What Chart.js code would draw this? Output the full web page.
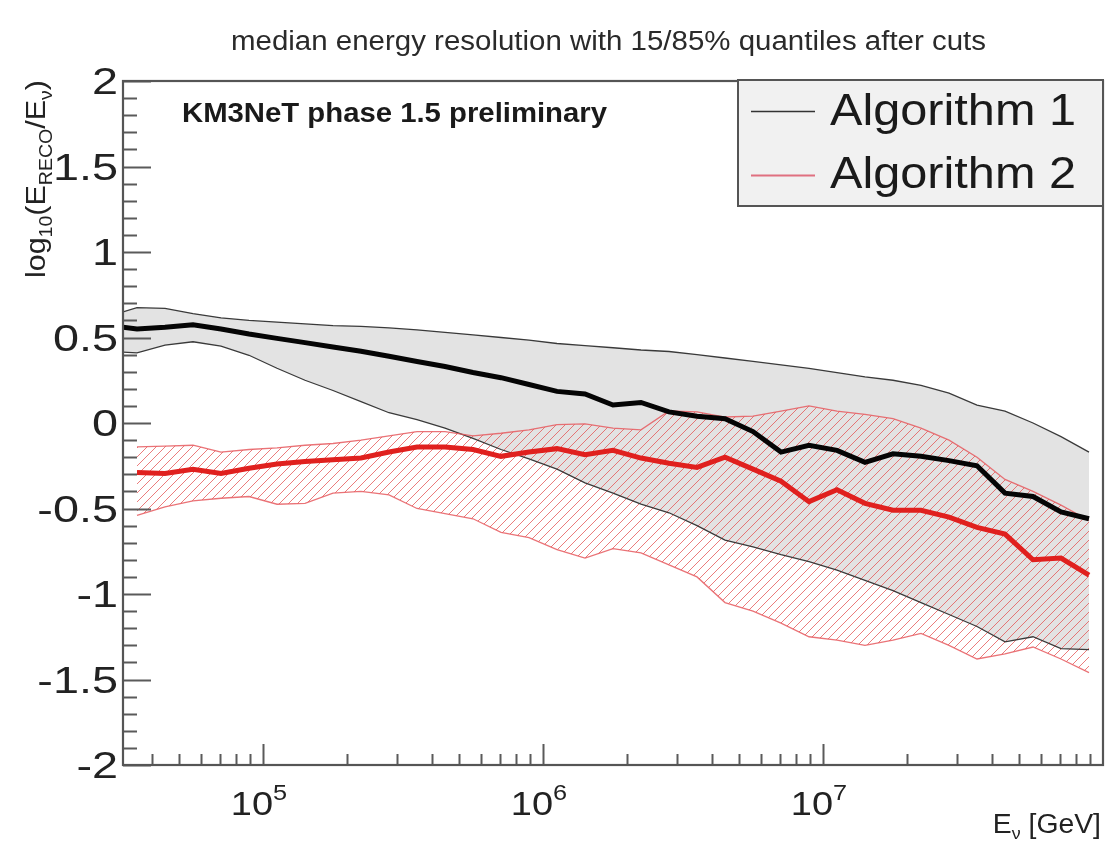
<!DOCTYPE html>
<html><head><meta charset="utf-8">
<script src="https://cdn.jsdelivr.net/npm/chart.js@4.4.1/dist/chart.umd.min.js"></script>
<style>html,body{margin:0;padding:0;background:#fff;} #wrap{width:1111px;height:842px;}</style>
</head><body><div id="wrap"><canvas id="c" width="1111" height="842"></canvas></div>
<script>
// ---- data ----
const energy = [35481, 44668, 56234, 70795, 89125, 112202, 141254, 177828, 223872, 281838,
  354813, 446684, 562341, 707946, 891251, 1122018, 1412538, 1778279, 2238721, 2818383,
  3548134, 4466836, 5623413, 7079458, 8912509, 11220185, 14125375, 17782794, 22387211, 28183829,
  35481339, 44668359, 56234133, 70794578, 89125094];
const energyA1 = [31623, 35481, 44668, 56234, 70795, 89125, 112202, 141254, 177828, 223872, 281838,
  354813, 446684, 562341, 707946, 891251, 1122018, 1412538, 1778279, 2238721, 2818383,
  3548134, 4466836, 5623413, 7079458, 8912509, 11220185, 14125375, 17782794, 22387211, 28183829,
  35481339, 44668359, 56234133, 70794578, 89125094];
const a1Median = [0.56, 0.55, 0.56, 0.575, 0.55, 0.52, 0.495, 0.47, 0.445, 0.42, 0.39,
  0.36, 0.33, 0.295, 0.265, 0.225, 0.185, 0.17, 0.105, 0.12, 0.065,
  0.04, 0.025, -0.05, -0.17, -0.13, -0.16, -0.23, -0.18, -0.195, -0.22,
  -0.25, -0.41, -0.43, -0.52, -0.56];
const a1Upper = [0.65, 0.675, 0.67, 0.64, 0.615, 0.60, 0.59, 0.58, 0.57, 0.565, 0.556,
  0.545, 0.53, 0.515, 0.50, 0.485, 0.465, 0.452, 0.44, 0.427, 0.418,
  0.40, 0.38, 0.36, 0.34, 0.32, 0.295, 0.27, 0.25, 0.22, 0.175,
  0.105, 0.07, 0.0, -0.08, -0.17];
const a1Lower = [0.415, 0.41, 0.455, 0.475, 0.45, 0.396, 0.32, 0.25, 0.19, 0.125, 0.06,
  0.02, -0.03, -0.09, -0.155, -0.21, -0.27, -0.35, -0.41, -0.475, -0.525,
  -0.6, -0.685, -0.725, -0.77, -0.81, -0.86, -0.92, -0.98, -1.05, -1.12,
  -1.19, -1.28, -1.25, -1.32, -1.325];
const a2Median = [-0.29, -0.295, -0.27, -0.295, -0.265, -0.24, -0.225, -0.215, -0.205, -0.17,
  -0.14, -0.14, -0.155, -0.195, -0.17, -0.15, -0.185, -0.16, -0.205, -0.235,
  -0.26, -0.2, -0.27, -0.34, -0.46, -0.39, -0.47, -0.51, -0.51, -0.55,
  -0.61, -0.65, -0.8, -0.79, -0.89];
const a2Upper = [-0.14, -0.135, -0.13, -0.17, -0.155, -0.145, -0.13, -0.12, -0.1, -0.075,
  -0.05, -0.05, -0.075, -0.06, -0.04, -0.01, -0.005, -0.03, -0.04, 0.07,
  0.065, 0.035, 0.04, 0.07, 0.1, 0.07, 0.05, 0.025, -0.03, -0.1,
  -0.2, -0.33, -0.4, -0.48, -0.57];
const a2Lower = [-0.54, -0.49, -0.455, -0.44, -0.43, -0.475, -0.47, -0.41, -0.40, -0.42,
  -0.5, -0.53, -0.56, -0.64, -0.67, -0.74, -0.79, -0.735, -0.76, -0.83,
  -0.9, -1.05, -1.1, -1.17, -1.25, -1.27, -1.30, -1.27, -1.23, -1.3,
  -1.38, -1.35, -1.31, -1.38, -1.46];
const seriesNames = ['Algorithm 1', 'Algorithm 2'];
const yTickValues = [2, 1.5, 1, 0.5, 0, -0.5, -1, -1.5, -2];
const yTickLabels = ['2', '1.5', '1', '0.5', '0', '-0.5', '-1', '-1.5', '-2'];
const xTickValues = [1e5, 1e6, 1e7];
const xTickBase = '10';
const xTickExponents = ['5', '6', '7'];
const xMinorTicks = [4e4,5e4,6e4,7e4,8e4,9e4,2e5,3e5,4e5,5e5,6e5,7e5,8e5,9e5,2e6,3e6,4e6,5e6,6e6,7e6,8e6,9e6,2e7,3e7,4e7,5e7,6e7,7e7,8e7,9e7];
const titleText = 'median energy resolution with 15/85% quantiles after cuts';
const labelText = 'KM3NeT phase 1.5 preliminary';

// ---- helpers ----
const FONT = '"Liberation Sans", Arial, sans-serif';
function pts(xs, ys) { return xs.map((x, i) => ({ x: x, y: ys[i] })); }
function runsWidth(ctx, runs) {
  let w = 0;
  for (const r of runs) { ctx.font = (r.bold ? 'bold ' : '') + r.size + 'px ' + FONT; w += ctx.measureText(r.t).width; }
  return w;
}
function drawRuns(ctx, runs, x, y, hscale, color) {
  let cx = x;
  ctx.fillStyle = color || '#1a1a1a';
  ctx.textAlign = 'left'; ctx.textBaseline = 'alphabetic';
  for (const r of runs) {
    ctx.font = (r.bold ? 'bold ' : '') + r.size + 'px ' + FONT;
    ctx.save(); ctx.translate(cx, y + (r.dy || 0)); ctx.scale(hscale, 1);
    ctx.fillText(r.t, 0, 0); ctx.restore();
    cx += ctx.measureText(r.t).width * hscale;
  }
}
function drawFit(ctx, runs, x, y, width, color) {
  const w = runsWidth(ctx, runs);
  drawRuns(ctx, runs, x, y, width / w, color);
}

const canvas = document.getElementById('c');
const ctx0 = canvas.getContext('2d');
function makeHatch() {
  const c = document.createElement('canvas'); c.width = 9; c.height = 9;
  const g = c.getContext('2d');
  g.strokeStyle = 'rgba(228,80,80,0.75)'; g.lineWidth = 1;
  g.beginPath(); g.moveTo(-2, 11); g.lineTo(11, -2); g.stroke();
  g.beginPath(); g.moveTo(-2, 2); g.lineTo(2, -2); g.stroke();
  g.beginPath(); g.moveTo(7, 11); g.lineTo(11, 7); g.stroke();
  return ctx0.createPattern(c, 'repeat');
}

const rootPlugin = {
  id: 'rootStyle',
  beforeDraw(chart) {
    const c = chart.ctx; c.save(); c.fillStyle = '#fff'; c.fillRect(0, 0, chart.width, chart.height); c.restore();
  },
  afterDatasetsDraw(chart) {
    const c = chart.ctx, a = chart.chartArea, xs = chart.scales.x, ys = chart.scales.y;
    c.save();
    c.strokeStyle = '#5a5a5a'; c.lineWidth = 2;
    c.beginPath();
    for (let i = 0; i < yTickValues.length; i++) {
      const py = Math.round(ys.getPixelForValue(yTickValues[i])) + 0.5;
      c.moveTo(a.left, py); c.lineTo(a.left + 28, py);
    }
    for (let v = -19; v < 20; v++) {
      if (v % 5 === 0) continue;
      const py = Math.round(ys.getPixelForValue(v / 10)) + 0.5;
      c.moveTo(a.left, py); c.lineTo(a.left + 14, py);
    }
    for (const t of xTickValues) { const px = Math.round(xs.getPixelForValue(t)) + 0.5; c.moveTo(px, a.bottom); c.lineTo(px, a.bottom - 21); }
    for (const t of xMinorTicks) { const px = Math.round(xs.getPixelForValue(t)) + 0.5; c.moveTo(px, a.bottom); c.lineTo(px, a.bottom - 11); }
    c.stroke();
    c.strokeStyle = '#555'; c.lineWidth = 2.2;
    c.strokeRect(a.left, a.top, a.right - a.left, a.bottom - a.top);
    c.restore();
  },
  afterDraw(chart) {
    const c = chart.ctx, xs = chart.scales.x, ys = chart.scales.y;
    c.save();
    drawFit(c, [{ t: titleText, size: 27 }], 231, 50, 755, '#2a2a2a');
    drawFit(c, [{ t: labelText, size: 28, bold: true }], 182, 122, 425, '#1a1a1a');
    for (let i = 0; i < yTickValues.length; i++) {
      const py = ys.getPixelForValue(yTickValues[i]);
      c.font = '36px ' + FONT;
      const hs = 1.3;
      const w = c.measureText(yTickLabels[i]).width * hs;
      drawRuns(c, [{ t: yTickLabels[i], size: 36 }], 118 - w, py + 13, hs, '#222');
    }
    for (let i = 0; i < xTickValues.length; i++) {
      const px = xs.getPixelForValue(xTickValues[i]);
      const runs = [{ t: xTickBase, size: 33 }, { t: xTickExponents[i], size: 22, dy: -15 }];
      const hs = 1.15;
      const w = runsWidth(c, runs) * hs;
      drawRuns(c, runs, px - w / 2 - 4, 815, hs, '#222');
    }
    {
      const runs = [{ t: 'E', size: 27 }, { t: 'ν', size: 17, dy: 6 }, { t: ' [GeV]', size: 27 }];
      const hs = 1.05; const w = runsWidth(c, runs) * hs;
      drawRuns(c, runs, 1101 - w, 833, hs, '#222');
    }
    c.save(); c.translate(45, 278); c.rotate(-Math.PI / 2);
    drawFit(c, [{ t: 'log', size: 28 }, { t: '10', size: 18, dy: 7 }, { t: '(E', size: 28 }, { t: 'RECO', size: 18, dy: 7 },
      { t: '/E', size: 28 }, { t: 'ν', size: 18, dy: 7 }, { t: ')', size: 28 }], 0, 0, 198, '#222');
    c.restore();
    // legend
    c.fillStyle = '#f1f1f1'; c.fillRect(738, 80, 365, 126);
    c.strokeStyle = '#555'; c.lineWidth = 2; c.strokeRect(738, 80, 365, 126);
    c.lineWidth = 1.5;
    c.strokeStyle = '#333'; c.beginPath(); c.moveTo(751, 111.5); c.lineTo(815, 111.5); c.stroke();
    c.strokeStyle = '#e07080'; c.lineWidth = 2; c.beginPath(); c.moveTo(751, 175.5); c.lineTo(815, 175.5); c.stroke();
    drawFit(c, [{ t: seriesNames[0], size: 45 }], 830, 125, 246, '#1a1a1a');
    drawFit(c, [{ t: seriesNames[1], size: 45 }], 830, 188, 246, '#1a1a1a');
    c.restore();
  }
};

new Chart(canvas, {
  type: 'line',
  data: {
    datasets: [
      { label: seriesNames[0] + ' median', data: pts(energyA1, a1Median), borderColor: '#050505', borderWidth: 5, fill: false },
      { label: seriesNames[1] + ' median', data: pts(energy, a2Median), borderColor: '#e0201e', borderWidth: 5, fill: false },
      { label: seriesNames[1] + ' 85%', data: pts(energy, a2Upper), borderColor: 'rgba(230,90,95,0.85)', borderWidth: 1.3, fill: '+1', backgroundColor: makeHatch() },
      { label: seriesNames[1] + ' 15%', data: pts(energy, a2Lower), borderColor: 'rgba(230,90,95,0.85)', borderWidth: 1.3, fill: false },
      { label: seriesNames[0] + ' 85%', data: pts(energyA1, a1Upper), borderColor: '#3a3a3a', borderWidth: 1.3, fill: '+1', backgroundColor: '#e3e3e3' },
      { label: seriesNames[0] + ' 15%', data: pts(energyA1, a1Lower), borderColor: '#3a3a3a', borderWidth: 1.3, fill: false }
    ]
  },
  options: {
    responsive: false, animation: false,
    layout: { padding: { left: 123, right: 8, top: 81, bottom: 77 } },
    scales: {
      x: { type: 'logarithmic', min: 31623, max: 1e8, display: false },
      y: { type: 'linear', min: -2, max: 2, display: false }
    },
    elements: { point: { radius: 0 }, line: { tension: 0 } },
    plugins: { legend: { display: false }, tooltip: { enabled: false }, filler: { drawTime: 'beforeDatasetsDraw', propagate: false } }
  },
  plugins: [rootPlugin]
});
</script></body></html>
